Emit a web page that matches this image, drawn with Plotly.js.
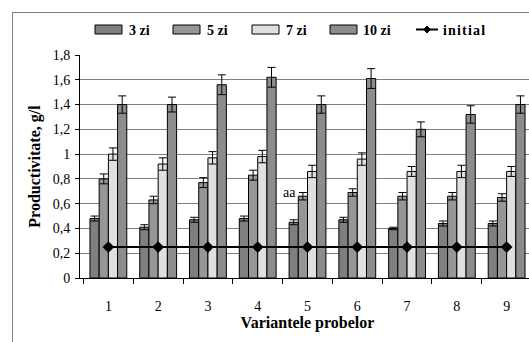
<!DOCTYPE html>
<html>
<head>
<meta charset="utf-8">
<script src="https://cdn.plot.ly/plotly-3.0.1.min.js"></script>
<style>
html,body{margin:0;padding:0;overflow:hidden;background:#fff;}
#wrap{position:relative;width:529px;height:342px;overflow:hidden;}
#chart{position:absolute;left:0;top:0;width:536px;height:342px;}
#frame{position:absolute;left:12px;top:12px;width:700px;height:500px;border:1px solid #808080;pointer-events:none;}
</style>
</head>
<body>
<div id="wrap"><div id="chart"></div><div id="frame"></div></div>
<script>
const categories = ['1','2','3','4','5','6','7','8','9'];
const seriesNames = ['3 zi','5 zi','7 zi','10 zi'];
const zi3  = [0.48,0.41,0.47,0.48,0.45,0.47,0.40,0.44,0.44];
const zi5  = [0.80,0.63,0.77,0.83,0.66,0.69,0.66,0.66,0.65];
const zi7  = [1.00,0.92,0.97,0.98,0.86,0.96,0.86,0.86,0.86];
const zi10 = [1.40,1.40,1.56,1.62,1.40,1.61,1.20,1.32,1.40];
const err3  = [0.02,0.02,0.02,0.02,0.02,0.02,0.01,0.02,0.02];
const err5  = [0.04,0.03,0.04,0.04,0.03,0.03,0.03,0.03,0.03];
const err7  = [0.05,0.05,0.05,0.05,0.05,0.05,0.04,0.05,0.04];
const err10 = [0.07,0.06,0.08,0.08,0.07,0.08,0.06,0.07,0.07];
const initial = [0.25,0.25,0.25,0.25,0.25,0.25,0.25,0.25,0.25];
const initialName = 'initial';
const yTicks = [0,0.2,0.4,0.6,0.8,1,1.2,1.4,1.6,1.8];

const SERIF = '"Liberation Serif", "Times New Roman", Times, serif';
const colors = ['#7f7f7f','#969696','#e0e0e0','#8c8c8c'];
const vals = [zi3, zi5, zi7, zi10];
const errs = [err3, err5, err7, err10];

const traces = vals.map((v,i)=>({
  type:'bar', x:categories, y:v, name:seriesNames[i],
  marker:{color:colors[i], line:{color:'#000', width:1}},
  error_y:{type:'data', array:errs[i], visible:true, color:'#000', thickness:1, width:4},
  showlegend:false
}));
traces.push({
  type:'scatter', mode:'lines+markers', x:categories, y:initial, name:initialName,
  line:{color:'#000', width:2}, marker:{symbol:'diamond', size:9, color:'#000'},
  showlegend:false
});

// legend built from pixel positions (plot area: x 80..535, y 55..278)
const L = 80, W = 455, T = 55, B = 278, H = B - T;
const px = x => (x - L) / W;
const py = y => (B - y) / H;
const legBoxes = [95, 173, 252, 330];
const legTextX = [127, 205, 284, 361];
const shapes = [];
const annotations = [];
legBoxes.forEach((bx,i)=>{
  shapes.push({type:'rect', xref:'paper', yref:'paper', x0:px(bx), x1:px(bx+27), y0:py(34), y1:py(25),
    fillcolor:colors[i], line:{color:'#000', width:1}});
  annotations.push({xref:'paper', yref:'paper', x:px(legTextX[i]), y:py(31), xanchor:'left', yanchor:'middle',
    text:'<b>'+seriesNames[i]+'</b>', showarrow:false, font:{family:SERIF, size:14, color:'#000'}});
});
shapes.push({type:'line', xref:'paper', yref:'paper', x0:px(416), x1:px(438), y0:py(29.5), y1:py(29.5), line:{color:'#000', width:2}});
shapes.push({type:'path', xref:'paper', yref:'paper',
  path:`M ${px(427)} ${py(26)} L ${px(430.5)} ${py(29.5)} L ${px(427)} ${py(33)} L ${px(423.5)} ${py(29.5)} Z`,
  fillcolor:'#000', line:{color:'#000', width:1}});
annotations.push({xref:'paper', yref:'paper', x:px(441), y:py(31), xanchor:'left', yanchor:'middle',
  text:'<b>i n i t i a l</b>'.replace(/ /g,'&#8202;'), showarrow:false, font:{family:SERIF, size:14, color:'#000'}});
// "aa" label
annotations.push({xref:'x', yref:'y', x:3.64, y:0.69, text:'aa', showarrow:false,
  font:{family:SERIF, size:14, color:'#000'}});

const layout = {
  width:536, height:342,
  margin:{l:80, r:1, t:55, b:64},
  paper_bgcolor:'rgba(0,0,0,0)', plot_bgcolor:'#fff',
  separators:',.',
  barmode:'group', bargap:0.26, bargroupgap:0,
  font:{family:SERIF, size:14, color:'#000'},
  xaxis:{type:'category', tickson:'boundaries', ticks:'outside', ticklen:5, tickcolor:'#000',
    showline:true, linecolor:'#000', linewidth:1, showgrid:false, zeroline:false,
    tickfont:{family:SERIF, size:14}, ticklabelstandoff:15,
    title:{text:'<b>Variantele probelor</b>', font:{family:SERIF, size:16}, standoff:4}},
  yaxis:{range:[0,1.8], tickvals:yTicks, ticks:'outside', ticklen:4, tickcolor:'#000',
    showline:true, linecolor:'#000', linewidth:1, showgrid:true, gridcolor:'#808080', gridwidth:1,
    zeroline:false, tickfont:{family:SERIF, size:14}, ticklabelstandoff:2,
    title:{text:'<b>Productivitate, g/l</b>', font:{family:SERIF, size:16}, standoff:8}},
  shapes:shapes, annotations:annotations
};

Plotly.newPlot('chart', traces, layout, {staticPlot:true, displayModeBar:false});
</script>
</body>
</html>
